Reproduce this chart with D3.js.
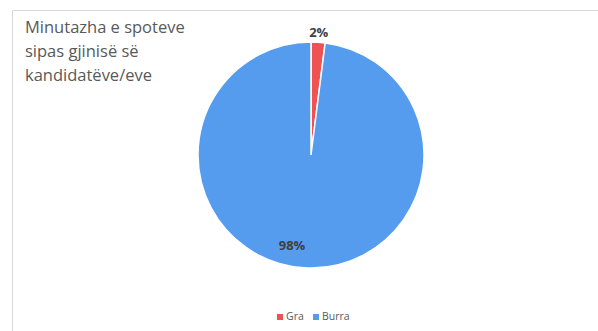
<!DOCTYPE html>
<html>
<head>
<meta charset="utf-8">
<script src="https://cdn.jsdelivr.net/npm/d3@7"></script>
<style>
  body { margin: 0; background: #fff; }
  svg { display: block; font-family: "Open Sans", sans-serif; }
</style>
</head>
<body>
<div id="chart"></div>
<script>
var categories = ["Gra", "Burra"];
var values = [2, 98];
var colors = ["#ee5253", "#559cef"];
var titleLines = ["Minutazha e spoteve", "sipas gjinisë së", "kandidatëve/eve"];

var width = 598, height = 331;
var cx = 311, cy = 155, radius = 113;

var svg = d3.select("#chart").append("svg")
    .attr("width", width)
    .attr("height", height);

// chart frame (only top and left edges visible in the crop)
svg.append("path")
    .attr("d", "M12.5,331 L12.5,10.5 L598,10.5")
    .attr("fill", "none")
    .attr("stroke", "#d9d9d9")
    .attr("stroke-width", 1);

// title
svg.append("g")
    .selectAll("text")
    .data(titleLines)
    .enter().append("text")
    .attr("x", 25)
    .attr("y", function(d, i) { return 33 + i * 24; })
    .attr("font-size", 16.5)
    .attr("fill", "#595959")
    .text(function(d) { return d; });

var pie = d3.pie().sort(null).value(function(d) { return d; });
var arcs = pie(values);

var arc = d3.arc().innerRadius(0).outerRadius(radius);

var g = svg.append("g")
    .attr("transform", "translate(" + cx + "," + cy + ")");

g.selectAll("path")
    .data(arcs)
    .enter().append("path")
    .attr("d", arc)
    .attr("fill", function(d, i) { return colors[i]; })
    .attr("stroke", "#fff")
    .attr("stroke-width", 1.5);

// labels: small slice outside, big slice inside
var outerLabel = d3.arc().innerRadius(radius + 10).outerRadius(radius + 10);
var innerLabel = d3.arc().innerRadius(radius * 0.8).outerRadius(radius * 0.8);

g.selectAll("text.lbl")
    .data(arcs)
    .enter().append("text")
    .attr("class", "lbl")
    .attr("transform", function(d) {
      var p = (d.data < 10 ? outerLabel : innerLabel).centroid(d);
      return "translate(" + p[0] + "," + p[1] + ")";
    })
    .attr("text-anchor", function(d) { return d.data < 10 ? "middle" : "end"; })
    .attr("dy", "0.35em")
    .attr("font-size", 13)
    .attr("font-weight", "bold")
    .attr("fill", "#404040")
    .text(function(d) { return d.data + "%"; });

// legend
var legend = svg.append("g")
    .attr("transform", "translate(277,314)");

var xs = [0, 36];
var item = legend.selectAll("g")
    .data(categories)
    .enter().append("g")
    .attr("transform", function(d, i) { return "translate(" + xs[i] + ",0)"; });

item.append("rect")
    .attr("width", 6)
    .attr("height", 6)
    .attr("fill", function(d, i) { return colors[i]; });

item.append("text")
    .attr("x", 9)
    .attr("y", 6)
    .attr("font-size", 10.5)
    .attr("fill", "#595959")
    .text(function(d) { return d; });
</script>
</body>
</html>
